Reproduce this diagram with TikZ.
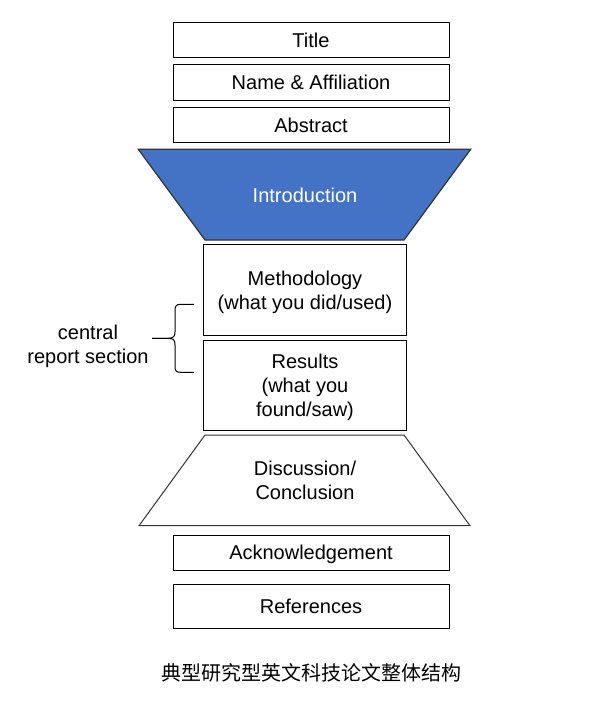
\documentclass[tikz,border=0pt]{standalone}
\usepackage{fontspec}
\setmainfont{Liberation Sans}
\newfontfamily\cjk{Noto Sans CJK SC}
\definecolor{introblue}{HTML}{4472C4}
\definecolor{edgegray}{HTML}{333333}
\tikzset{
  secbox/.style={draw=black, line width=1pt, inner sep=0pt, minimum width=276pt, text height=14.4pt, text depth=0pt, font=\fontsize{20}{24}\selectfont},
  midbox/.style={draw=black, line width=1pt, inner sep=0pt, minimum width=203.4pt},
  lbl/.style={inner sep=0pt, align=center, font=\fontsize{20}{24}\selectfont},
}
\begin{document}
\begin{tikzpicture}[x=1pt,y=-1pt]
\useasboundingbox (0,0) rectangle (599,715);
% top boxes
\node[secbox, minimum height=35pt] (title) at (311,39.8) {Title};
\node[secbox, minimum height=36pt] (name) at (311,82.3) {Name \& Affiliation};
\node[secbox, minimum height=35pt] (abstract) at (311,124.8) {Abstract};
% introduction trapezoid
\coordinate (i1) at (138.3,149.3);
\coordinate (i2) at (470.7,149.3);
\coordinate (i3) at (404,240);
\coordinate (i4) at (205,240);
\draw[fill=introblue, draw=edgegray, line width=1.2pt, line join=miter] (i1) -- (i2) -- (i3) -- (i4) -- cycle;
\node[lbl, text=white, text height=14.4pt, text depth=0pt] (intro) at (305,195) {Introduction};
% middle boxes
\node[midbox, minimum height=90.7pt] (method) at (305,289.7) {};
\node[lbl] (methodtxt) at (305,292.5) {Methodology\\(what you did/used)};
\node[midbox, minimum height=89.7pt] (results) at (305,385.2) {};
\node[lbl] (resultstxt) at (305,387.5) {Results\\(what you\\found/saw)};
% discussion trapezoid
\coordinate (d1) at (205,435);
\coordinate (d2) at (404,435);
\coordinate (d3) at (470,525.7);
\coordinate (d4) at (139,525.7);
\draw[draw=edgegray, line width=1pt] (d1) -- (d2) -- (d3) -- (d4) -- cycle;
\node[lbl] (disc) at (305,480.5) {Discussion/\\Conclusion};
% bottom boxes
\node[secbox, minimum height=35pt] (ack) at (311,552.7) {Acknowledgement};
\node[secbox, minimum height=44pt] (refs) at (311,606.3) {References};
% brace and label
\coordinate (btop) at (194,304.3);
\coordinate (bbot) at (194,372.3);
\coordinate (btip) at (152,338.3);
\draw[black, line width=1pt] (btop) -- (181,304.3) .. controls (176,304.3) and (175,306) .. (175,311) -- (175,332) .. controls (175,336.5) and (173.5,338.3) .. (168,338.3) -- (btip);
\draw[black, line width=1pt] (btip) -- (168,338.3) .. controls (173.5,338.3) and (175,340) .. (175,345) -- (175,366) .. controls (175,371) and (176,372.3) .. (181,372.3) -- (bbot);
\node[lbl] (central) at (88,346.5) {central\\report section};
% caption
\node[inner sep=0pt, font=\cjk\fontsize{20}{24}\selectfont] (caption) at (311.5,673) {典型研究型英文科技论文整体结构};
\end{tikzpicture}
\end{document}
